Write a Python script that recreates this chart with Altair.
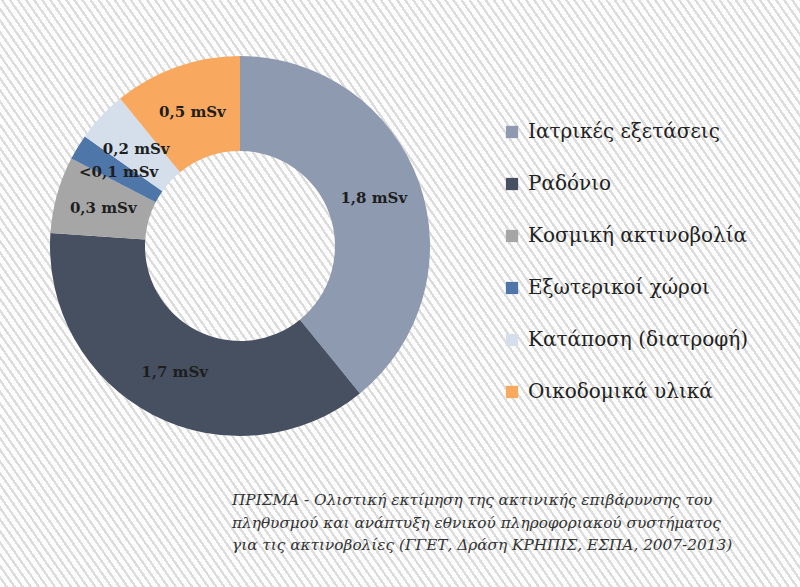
import altair as alt
import pandas as pd

categories = [
    "Ιατρικές εξετάσεις",
    "Ραδόνιο",
    "Κοσμική ακτινοβολία",
    "Εξωτερικοί χώροι",
    "Κατάποση (διατροφή)",
    "Οικοδομικά υλικά",
]
values = [1.8, 1.7, 0.3, 0.1, 0.2, 0.5]
labels = ["1,8 mSv", "1,7 mSv", "0,3 mSv", "<0,1 mSv", "0,2 mSv", "0,5 mSv"]
colors = ["#8d9ab0", "#465061", "#a6a6a6", "#4e76a9", "#d5dfec", "#f9a95f"]
caption = [
    "ΠΡΙΣΜΑ - Ολιστική εκτίμηση της ακτινικής επιβάρυνσης του",
    "πληθυσμού και ανάπτυξη εθνικού πληροφοριακού συστήματος",
    "για τις ακτινοβολίες (ΓΓΕΤ, Δράση ΚΡΗΠΙΣ, ΕΣΠΑ, 2007-2013)",
]

W, H = 800, 587
CX, CY = 240, 246

df = pd.DataFrame({
    "cat": categories,
    "value": values,
    "label": labels,
    "order": list(range(len(categories))),
})

# striped paper background (decoration only): hard-stop linear gradient
n_stripes = 150
stops = []
for i in range(n_stripes):
    a = i / n_stripes
    b = (i + 0.65) / n_stripes
    c = (i + 1) / n_stripes
    stops += [
        alt.GradientStop(offset=a, color="#fdfdfd"),
        alt.GradientStop(offset=b, color="#fdfdfd"),
        alt.GradientStop(offset=b, color="#dcdcdc"),
        alt.GradientStop(offset=c, color="#dcdcdc"),
    ]
stripe_fill = alt.LinearGradient(
    gradient="linear", x1=0, y1=1, x2=1.2, y2=0.388, stops=stops
)
bg = (
    alt.Chart(pd.DataFrame({"k": [0]}))
    .mark_rect(fill=stripe_fill, strokeWidth=0)
    .encode(
        x=alt.value(0), x2=alt.value(W), y=alt.value(0), y2=alt.value(H)
    )
)

base = alt.Chart(df).encode(
    theta=alt.Theta("value:Q", stack=True),
    order=alt.Order("order:Q", sort="ascending"),
    x=alt.value(CX),
    y=alt.value(CY),
)

arcs = base.mark_arc(outerRadius=190, innerRadius=95).encode(
    color=alt.Color(
        "cat:N",
        scale=alt.Scale(domain=categories, range=colors),
        sort=categories,
        legend=alt.Legend(
            title=None,
            orient="none",
            legendX=502,
            legendY=122,
            symbolType="square",
            symbolSize=150,
            symbolStrokeWidth=0,
            labelFont="DejaVu Serif",
            labelFontSize=20,
            labelColor="#222222",
            labelLimit=400,
            labelOffset=6,
            rowPadding=32,
        ),
    )
)

texts = base.mark_text(
    radius=142,
    font="DejaVu Serif",
    fontWeight="bold",
    fontSize=15,
    color="#1e1e1e",
).encode(text="label:N")

cap = (
    alt.Chart(pd.DataFrame({"t": ["\n".join(caption)]}))
    .mark_text(
        align="left",
        baseline="middle",
        lineBreak="\n",
        lineHeight=22.5,
        font="DejaVu Serif",
        fontStyle="italic",
        fontSize=15.3,
        color="#333333",
    )
    .encode(text="t:N", x=alt.value(232), y=alt.value(500))
)

chart = (
    alt.layer(bg, arcs, texts, cap)
    .properties(width=W, height=H, padding=0, background="#fbfbfb")
    .configure_view(stroke=None)
)

chart.save("out.html", embed_options={"renderer": "svg", "actions": False})
